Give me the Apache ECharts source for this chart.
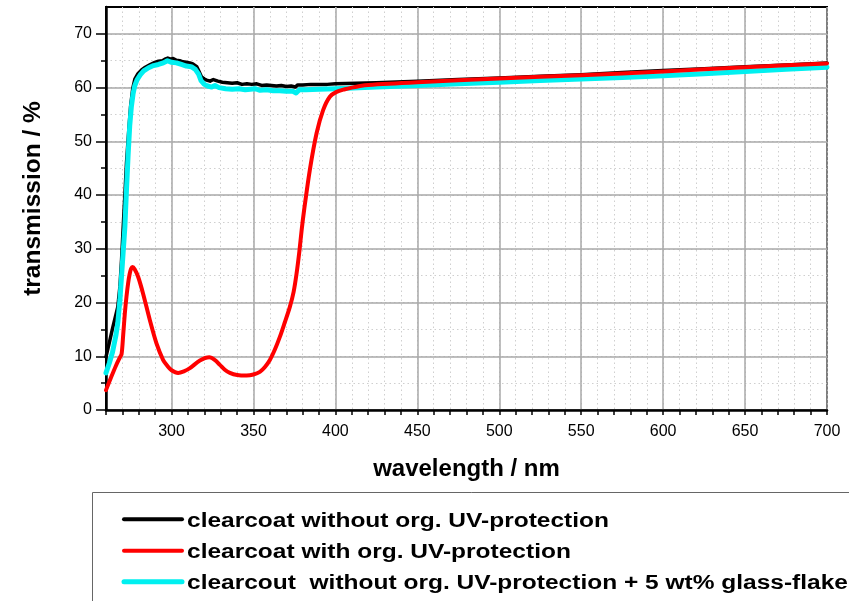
<!DOCTYPE html>
<html>
<head>
<meta charset="utf-8">
<title>Transmission spectra of clearcoats</title>
<script src="https://cdn.jsdelivr.net/npm/echarts@6/dist/echarts.min.js"></script>
<style>
  html, body { margin: 0; padding: 0; background: #ffffff; }
  #chart { width: 849px; height: 601px; }
</style>
</head>
<body>
<div id="chart"></div>
<script>
// Series names (legend text)
const seriesNames = [
  'clearcoat without org. UV-protection',
  'clearcoat with org. UV-protection',
  'clearcout  without org. UV-protection + 5 wt% glass-flake'
];

// Clearcoat without organic UV protection: wavelength (nm) / transmission (%)
const plainWl = [260, 262, 264, 266, 267.2, 268.5, 269.5, 270.4, 271.5, 272.5, 273.9, 275, 276.3, 277.6, 279.5,
  281.7, 284, 287, 289.8, 292, 294.5, 296, 297.7, 299.5, 301, 303, 305, 307, 309, 311.2, 313, 315.4, 316.8,
  318.3, 320, 321.4, 323.5, 325.5, 328.3, 331, 334, 337, 340, 343, 346, 349, 352, 355, 358, 361, 364, 367,
  370, 373, 375.5, 377, 380, 385, 390, 395, 400, 425, 450, 475, 500, 525, 550, 575, 600, 625, 650, 675, 700];
const plainT = [9.9, 12.5, 15.2, 17.7, 19.2, 23, 28, 33.5, 40, 46, 52.1, 56.5, 59.8, 61.6, 62.6,
  63.3, 63.8, 64.3, 64.7, 64.9, 65.0, 65.3, 65.5, 65.3, 65.4, 65.1, 65.0, 64.8, 64.7, 64.6, 64.4, 63.9, 63.0,
  62.0, 61.6, 61.4, 61.2, 61.5, 61.2, 61.0, 60.9, 60.8, 60.9, 60.6, 60.7, 60.6, 60.7, 60.4, 60.5, 60.4, 60.3, 60.4,
  60.2, 60.3, 60.1, 60.5, 60.5, 60.6, 60.6, 60.6, 60.7, 60.9, 61.2, 61.5, 61.8, 62.1, 62.4, 62.8, 63.2, 63.5, 63.9, 64.2, 64.6];

// Clearcoat with organic UV protection
const uvWl = [260, 263, 266, 268.5, 269.5, 270.5, 271.5, 272.5, 273.5, 274.5, 275.3, 276.2, 277.5, 279.6,
  282.6, 286.7, 290.8, 294.9, 297.5, 300, 304, 307.5, 311.2, 317.3, 323, 326.5, 329.5, 332.5, 335.6, 340,
  345.8, 350, 353.9, 357, 360, 363, 366.1, 369, 372.2, 374.5, 376.3, 378, 379.4, 380.9, 384.4, 388.5, 392.5,
  396.6, 400.7, 405.8, 410, 415, 420, 450, 500, 550, 600, 650, 700];
const uvT = [3.7, 6.0, 8.2, 9.8, 10.4, 14, 18, 21.1, 23.6, 25.4, 26.3, 26.6, 26.2, 24.8,
  21.7, 16.8, 12.4, 9.3, 8.2, 7.4, 6.9, 7.2, 7.8, 9.2, 9.8, 9.3, 8.4, 7.5, 6.9, 6.5,
  6.4, 6.6, 7.1, 8.0, 9.3, 11.2, 13.6, 16.2, 19.2, 22.0, 25.4, 29.5, 33.5, 37.2, 44.7, 51.5, 55.8,
  58.3, 59.2, 59.7, 60.0, 60.3, 60.5, 61.0, 61.7, 62.3, 63.0, 63.8, 64.5];

// Clearcoat without organic UV protection + 5 wt% glass flake
const flakeWl = [260, 262, 264, 266, 267.2, 268.5, 269.5, 270.5, 271.5, 272.5, 273.5, 274.5, 275.5, 276.5,
  277.5, 279, 281, 283, 286, 289, 292, 295, 297.5, 300, 303, 306, 309, 312, 314.5, 316.5, 318, 320, 322,
  324.5, 326.5, 329, 333, 337, 341, 345, 348, 351, 354, 358, 362, 366, 370, 374, 376, 378, 382, 390, 400,
  425, 450, 475, 500, 525, 550, 575, 600, 625, 650, 675, 700];
const flakeT = [6.9, 8.7, 10.8, 13.8, 16.2, 20.5, 25, 29.5, 34, 41, 47.5, 53, 56.5, 58.8,
  60.3, 61.5, 62.4, 63.1, 63.7, 64.1, 64.3, 64.6, 65.0, 64.7, 64.6, 64.3, 64.0, 63.9, 63.4, 62.5, 61.3, 60.6, 60.3,
  60.1, 60.4, 60.0, 59.8, 59.7, 59.8, 59.6, 59.7, 59.8, 59.5, 59.6, 59.4, 59.4, 59.3, 59.3, 59.0, 59.6, 59.6, 59.7, 59.8,
  60.1, 60.4, 60.7, 61.0, 61.3, 61.6, 61.9, 62.2, 62.6, 63.0, 63.4, 63.8];

// Axis ticks
const xTicks = [300, 350, 400, 450, 500, 550, 600, 650, 700];
const xMinorTicks = [260, 270, 280, 290, 300, 310, 320, 330, 340, 350, 360, 370, 380, 390, 400, 410, 420, 430,
  440, 450, 460, 470, 480, 490, 500, 510, 520, 530, 540, 550, 560, 570, 580, 590, 600, 610, 620, 630, 640,
  650, 660, 670, 680, 690, 700];
const yTicks = [0, 10, 20, 30, 40, 50, 60, 70];
const yMinorTicks = [0, 5, 10, 15, 20, 25, 30, 35, 40, 45, 50, 55, 60, 65, 70];

const FONT = '"Liberation Sans", Arial, Helvetica, sans-serif';
const colors = ['#000000', '#ff0000', '#00f0f0'];
const widths = [3.5, 4, 5];

const pairs = (xs, ys) => xs.map((x, i) => [x, ys[i]]);
const seriesData = [pairs(plainWl, plainT), pairs(uvWl, uvT), pairs(flakeWl, flakeT)];

const chart = echarts.init(document.getElementById('chart'), null, { renderer: 'canvas' });

const minorX = {
  type: 'value', min: 260, max: 700, interval: 10, position: 'bottom',
  axisLine: { show: true, onZero: false, lineStyle: { color: '#000', width: 2.5 } },
  axisTick: { show: true, customValues: xMinorTicks, length: 5, lineStyle: { color: '#000', width: 1.5 } },
  axisLabel: { show: false },
  splitLine: { show: true, lineStyle: { color: '#cfcfcf', width: 1, type: [1.5, 3] } }
};
const majorX = {
  type: 'value', min: 260, max: 700, interval: 10, position: 'bottom',
  axisLine: { show: false, onZero: false },
  axisTick: { show: true, customValues: xTicks, length: 5, lineStyle: { color: '#000', width: 1.5 } },
  axisLabel: { show: true, customValues: xTicks, fontFamily: FONT, fontSize: 16, color: '#000', margin: 14 },
  splitLine: { show: true, lineStyle: { color: '#a8a8a8', width: 1.5 } },
  name: 'wavelength / nm', nameLocation: 'middle', nameGap: 47,
  nameTextStyle: { fontFamily: FONT, fontSize: 24, fontWeight: 'bold', color: '#000' }
};
const minorY = {
  type: 'value', min: 0, max: 75, interval: 5, position: 'left',
  axisLine: { show: true, onZero: false, lineStyle: { color: '#000', width: 2.5 } },
  axisTick: { show: true, customValues: yMinorTicks, length: 5, lineStyle: { color: '#000', width: 1.5 } },
  axisLabel: { show: false },
  splitLine: { show: true, lineStyle: { color: '#cfcfcf', width: 1, type: [1.5, 3] } }
};
const majorY = {
  type: 'value', min: 0, max: 75, interval: 10, position: 'left',
  axisLine: { show: false, onZero: false },
  axisTick: { show: true, customValues: yTicks, length: 10, lineStyle: { color: '#000', width: 1.5 } },
  axisLabel: { show: true, customValues: yTicks, fontFamily: FONT, fontSize: 16, color: '#000', margin: 14 },
  splitLine: { show: true, lineStyle: { color: '#a8a8a8', width: 1.5 } },
  name: 'transmission / %', nameLocation: 'middle', nameGap: 60,
  nameTextStyle: {
    fontFamily: FONT, fontSize: 24.5, fontWeight: 'bold', color: '#000',
    padding: [0, 0, 0, 20]
  }
};

// Draw order: black first, cyan over it, red on top
const drawOrder = [0, 2, 1];
const series = drawOrder.map((k) => ({
  name: seriesNames[k],
  type: 'line',
  xAxisIndex: 1,
  yAxisIndex: 1,
  data: seriesData[k],
  symbol: 'none',
  smooth: k === 1 ? 0.3 : false,
  clip: true,
  lineStyle: { color: colors[k], width: widths[k], cap: 'round', join: 'round' },
  itemStyle: { color: colors[k] },
  emphasis: { disabled: true }
}));

// Legend box below the plot
const legendRows = [521, 552.5, 583.5];
const legendGraphics = [{
  type: 'rect', x: 92.5, y: 492.5,
  shape: { x: 0, y: 0, width: 800, height: 200 },
  style: { fill: 'none', stroke: '#666', lineWidth: 1 }
}];
seriesNames.forEach((name, i) => {
  legendGraphics.push({
    type: 'line',
    shape: { x1: 124, y1: legendRows[i] - 1.8, x2: 182, y2: legendRows[i] - 1.8 },
    style: { stroke: colors[i], lineWidth: i === 2 ? 5 : 4, lineCap: 'round' }
  });
  legendGraphics.push({
    type: 'text', x: 187, y: legendRows[i], scaleX: 1.225,
    style: {
      text: name, fill: '#000',
      font: 'bold 20px ' + FONT,
      textVerticalAlign: 'middle', textAlign: 'left'
    }
  });
});

chart.setOption({
  animation: false,
  backgroundColor: '#ffffff',
  textStyle: { fontFamily: FONT },
  grid: { left: 106, right: 22, top: 7, bottom: 191, show: true, borderColor: '#000', borderWidth: 2, containLabel: false },
  xAxis: [minorX, majorX],
  yAxis: [minorY, majorY],
  series: series,
  graphic: legendGraphics
});
</script>
</body>
</html>
